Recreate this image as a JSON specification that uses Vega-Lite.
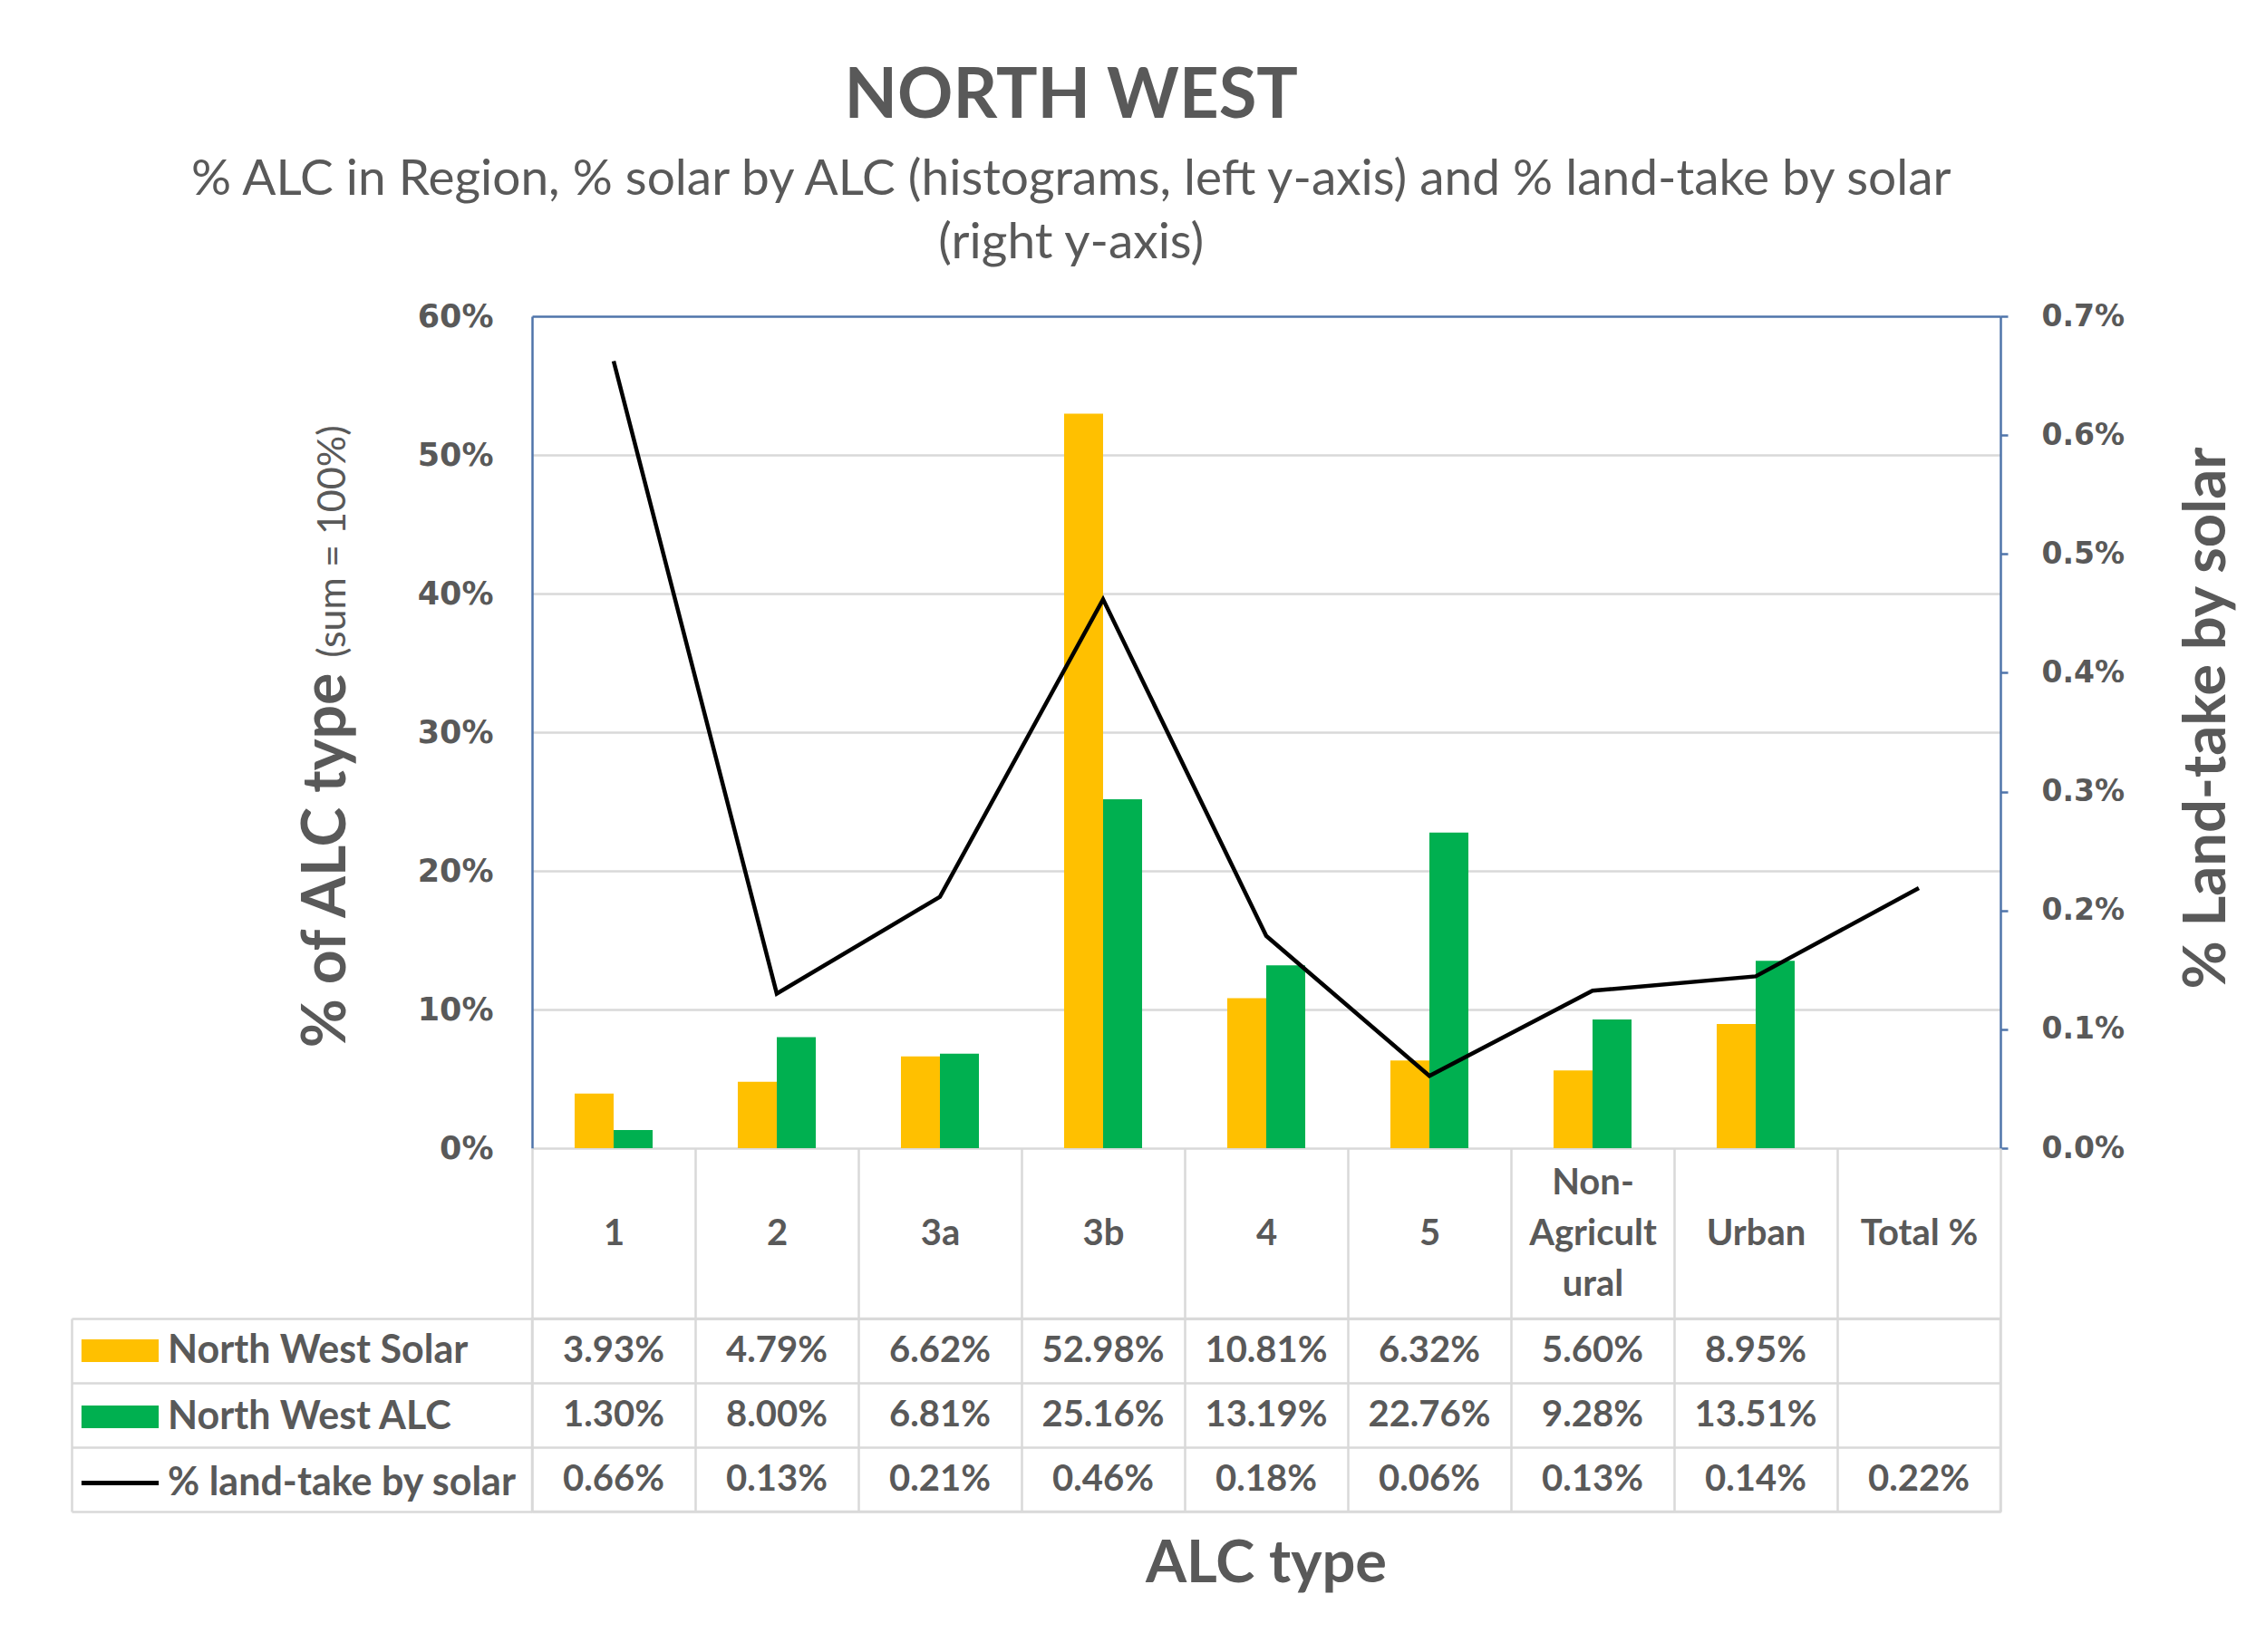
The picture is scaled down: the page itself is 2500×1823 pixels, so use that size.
{
  "$schema": "https://vega.github.io/schema/vega-lite/v6.json",
  "background": "white",
  "padding": {"left": 76, "top": 69, "right": 10, "bottom": 10},
  "datasets": {
    "d": [
      {"cat": "1", "series": "North West Solar", "value": 0.0393},
      {"cat": "2", "series": "North West Solar", "value": 0.0479},
      {"cat": "3a", "series": "North West Solar", "value": 0.0662},
      {"cat": "3b", "series": "North West Solar", "value": 0.5298},
      {"cat": "4", "series": "North West Solar", "value": 0.1081},
      {"cat": "5", "series": "North West Solar", "value": 0.0632},
      {"cat": "Non-Agricultural", "series": "North West Solar", "value": 0.0560},
      {"cat": "Urban", "series": "North West Solar", "value": 0.0895},
      {"cat": "1", "series": "North West ALC", "value": 0.0130},
      {"cat": "2", "series": "North West ALC", "value": 0.0800},
      {"cat": "3a", "series": "North West ALC", "value": 0.0681},
      {"cat": "3b", "series": "North West ALC", "value": 0.2516},
      {"cat": "4", "series": "North West ALC", "value": 0.1319},
      {"cat": "5", "series": "North West ALC", "value": 0.2276},
      {"cat": "Non-Agricultural", "series": "North West ALC", "value": 0.0928},
      {"cat": "Urban", "series": "North West ALC", "value": 0.1351},
      {"cat": "1", "series": "% land-take by solar", "value": 0.006623},
      {"cat": "2", "series": "% land-take by solar", "value": 0.00130},
      {"cat": "3a", "series": "% land-take by solar", "value": 0.002115},
      {"cat": "3b", "series": "% land-take by solar", "value": 0.004618},
      {"cat": "4", "series": "% land-take by solar", "value": 0.001786},
      {"cat": "5", "series": "% land-take by solar", "value": 0.000608},
      {"cat": "Non-Agricultural", "series": "% land-take by solar", "value": 0.001325},
      {"cat": "Urban", "series": "% land-take by solar", "value": 0.001446},
      {"cat": "Total %", "series": "% land-take by solar", "value": 0.002188}
    ]
  },
  "title": {
    "text": "NORTH WEST",
    "subtitle": ["% ALC in Region, % solar by ALC (histograms, left y-axis) and % land-take by solar", "(right y-axis)"],
    "font": "Lato",
    "fontSize": 76,
    "fontWeight": "bold",
    "color": "#595959",
    "subtitleFont": "Lato",
    "subtitleFontSize": 55,
    "subtitleColor": "#595959",
    "subtitleLineHeight": 70,
    "subtitlePadding": 26,
    "anchor": "middle",
    "offset": 35,
    "dx": -90
  },
  "config": {"font": "Lato", "view": {"stroke": null}},
  "spacing": 188,
  "bounds": "flush",
  "vconcat": [
    {
      "width": 1620,
      "height": 918,
      "data": {"name": "d"},
      "layer": [
        {
          "transform": [{"filter": "datum.series != '% land-take by solar'"}],
          "mark": {"type": "bar"},
          "encoding": {
            "x": {"field": "cat", "type": "nominal", "sort": null,
              "scale": {"domain": ["1", "2", "3a", "3b", "4", "5", "Non-Agricultural", "Urban", "Total %"], "paddingInner": 0.522, "paddingOuter": 0.261},
              "axis": null},
            "xOffset": {"field": "series", "type": "nominal", "sort": null,
              "scale": {"domain": ["North West Solar", "North West ALC"], "paddingInner": 0, "paddingOuter": 0}},
            "y": {"field": "value", "type": "quantitative",
              "scale": {"domain": [0, 0.6], "nice": false},
              "axis": {
                "values": [0, 0.1, 0.2, 0.3, 0.4, 0.5, 0.6],
                "format": ".0%",
                "title": "% of ALC type",
                "titleFont": "Lato", "titleFontSize": 66, "titleFontWeight": "bold", "titleColor": "#595959",
                "titleAngle": -90, "titleX": -207, "titleY": 600, "titleAlign": "center", "titleBaseline": "alphabetic",
                "labelFont": "DejaVu Sans", "labelFontSize": 35, "labelFontWeight": "bold", "labelColor": "#595959",
                "labelPadding": 43,
                "ticks": false,
                "domain": true, "domainColor": "#4f74aa", "domainWidth": 2.5,
                "grid": true,
                "gridColor": {"condition": {"test": "datum.value >= 0.599", "value": "#4f74aa"}, "value": "#d9d9d9"},
                "gridWidth": 2.5
              }},
            "color": {"field": "series", "type": "nominal",
              "scale": {"domain": ["North West Solar", "North West ALC", "% land-take by solar"], "range": ["#ffc000", "#00b050", "#000000"]},
              "legend": {
                "orient": "none", "legendX": -476, "legendY": 1120,
                "title": null, "padding": 0,
                "symbolSize": 807, "rowPadding": 29,
                "labelFont": "Lato", "labelFontSize": 43, "labelFontWeight": "bold", "labelColor": "#595959",
                "labelOffset": 31, "labelLimit": 600,
                "symbolStrokeWidth": 0,
                "encode": {
                  "symbols": {
                    "update": {
                      "shape": {"signal": "datum.value === '% land-take by solar' ? 'M-3,-0.18H3V0.18H-3Z' : 'M-3,-0.88H3V0.88H-3Z'"},
                      "fill": {"signal": "datum.value === 'North West Solar' ? '#ffc000' : (datum.value === 'North West ALC' ? '#00b050' : '#000000')"},
                      "stroke": {"value": "transparent"},
                      "opacity": {"value": 1}
                    }
                  }
                }
              }}
          }
        },
        {
          "transform": [{"filter": "datum.series == '% land-take by solar'"}],
          "mark": {"type": "line", "strokeWidth": 4.5},
          "encoding": {
            "x": {"field": "cat", "type": "nominal", "sort": null, "axis": null},
            "y": {"field": "value", "type": "quantitative",
              "scale": {"domain": [0, 0.007], "nice": false},
              "axis": {
                "orient": "right",
                "values": [0, 0.001, 0.002, 0.003, 0.004, 0.005, 0.006, 0.007],
                "format": ".1%",
                "title": "% Land-take by solar",
                "titleFont": "Lato", "titleFontSize": 65, "titleFontWeight": "bold", "titleColor": "#595959",
                "titleAngle": -90, "titleX": 247, "titleY": 443, "titleAlign": "center", "titleBaseline": "alphabetic",
                "labelFont": "DejaVu Sans", "labelFontSize": 33, "labelFontWeight": "bold", "labelColor": "#595959",
                "labelPadding": 37,
                "ticks": true, "tickSize": 8, "tickColor": "#4f74aa", "tickWidth": 2.5,
                "domain": true, "domainColor": "#4f74aa", "domainWidth": 2.5,
                "grid": false
              }},
            "color": {"field": "series", "type": "nominal"}
          }
        },
        {
          "transform": [{"filter": "datum.series == 'North West Solar'"}],
          "mark": {"type": "point", "opacity": 0},
          "encoding": {
            "x": {"field": "cat", "type": "nominal", "sort": null, "axis": null},
            "y": {"field": "value", "type": "quantitative",
              "axis": {
                "orient": "left",
                "title": "(sum = 100%)",
                "titleFont": "Lato", "titleFontSize": 43, "titleFontWeight": "normal", "titleColor": "#595959",
                "titleAngle": -90, "titleX": -207, "titleY": 248, "titleAlign": "center", "titleBaseline": "alphabetic",
                "labels": false, "ticks": false, "domain": false, "grid": false
              }}
          }
        }
      ],
      "resolve": {"scale": {"y": "independent"}}
    },
    {
      "width": 1620,
      "height": 213,
      "view": {"stroke": "#d9d9d9", "strokeWidth": 2.5},
      "data": {"name": "d"},
      "title": {"text": "ALC type", "orient": "bottom", "anchor": "middle", "frame": "group", "font": "Lato", "fontSize": 65, "fontWeight": "bold", "color": "#595959", "baseline": "alphabetic", "offset": 77},
      "mark": {"type": "text", "font": "Lato", "fontSize": 40, "fontWeight": "bold", "color": "#595959", "baseline": "middle", "align": "center"},
      "encoding": {
        "x": {"field": "cat", "type": "nominal", "sort": null,
          "scale": {"domain": ["1", "2", "3a", "3b", "4", "5", "Non-Agricultural", "Urban", "Total %"], "paddingInner": 0, "paddingOuter": 0},
          "axis": {
            "orient": "top", "title": null,
            "tickBand": "extent", "tickSize": 188, "tickColor": "#d9d9d9", "tickWidth": 2.5,
            "domain": true, "domainColor": "#d9d9d9", "domainWidth": 2.5,
            "grid": true, "gridColor": "#d9d9d9", "gridWidth": 2.5,
            "labelPadding": {"condition": {"test": "datum.value == 'Non-Agricultural'", "value": -38}, "value": -94},
            "labelBaseline": "middle", "labelAngle": 0,
            "labelFont": "Lato", "labelFontSize": 40, "labelFontWeight": "bold", "labelColor": "#595959",
            "labelLineHeight": 56, "labelOverlap": false, "labelLimit": 600,
            "labelExpr": "datum.value == 'Non-Agricultural' ? ['Non-', 'Agricult', 'ural'] : datum.value"
          }},
        "y": {"field": "series", "type": "nominal", "sort": null,
          "scale": {"domain": ["North West Solar", "North West ALC", "% land-take by solar"], "paddingInner": 0, "paddingOuter": 0},
          "axis": {
            "orient": "left", "title": null, "offset": 508,
            "tickBand": "extent", "tickSize": -508, "tickColor": "#d9d9d9", "tickWidth": 2.5,
            "domain": true, "domainColor": "#d9d9d9", "domainWidth": 2.5,
            "grid": true, "gridColor": "#d9d9d9", "gridWidth": 2.5,
            "labels": false
          }},
        "text": {"field": "value", "type": "quantitative", "format": ".2%"}
      }
    }
  ]
}
